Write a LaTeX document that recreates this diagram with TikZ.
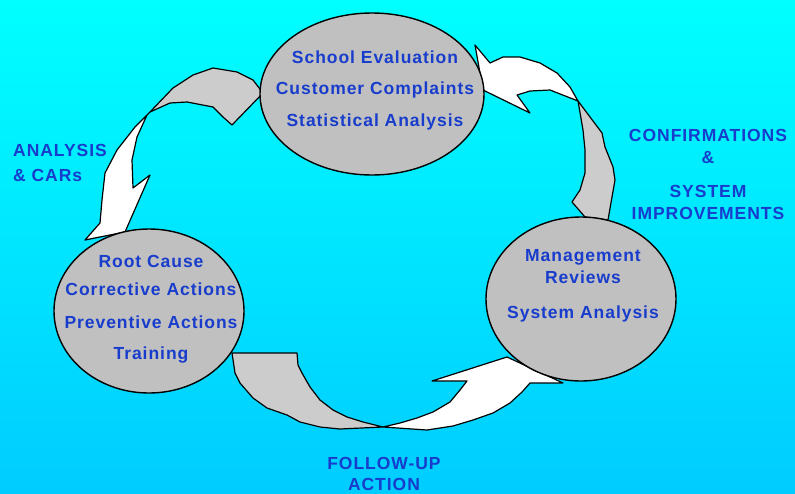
\documentclass[tikz,border=0pt]{standalone}
\usepackage{fontspec}
\setmainfont{Liberation Sans}[LetterSpace=5.5]
\usetikzlibrary{shapes,shapes.geometric}
\definecolor{skytop}{RGB}{0,255,255}
\definecolor{skybottom}{RGB}{0,204,255}
\definecolor{ovalgray}{RGB}{192,192,192}
\definecolor{tailgray}{RGB}{204,204,204}
\definecolor{textblue}{RGB}{24,60,204}

\begin{document}
\begin{tikzpicture}[x=1pt,y=-1pt]
				\tikzstyle{oval}=[ellipse, draw, line width=1.4pt, fill=ovalgray, inner sep=0pt]
				\tikzstyle{tailpart}=[draw, line width=1.2pt, fill=tailgray, line join=round]
				\tikzstyle{headpart}=[draw, line width=1.2pt, fill=white, line join=round]
				\tikzstyle{words}=[text=textblue, inner sep=0pt, align=center]
				\useasboundingbox (0,0) rectangle (795,493);
				\shade[top color=skytop, bottom color=skybottom] (0,0) rectangle (795,493);

				\draw[tailpart] (263,93) -- (253,80) -- (237,72) -- (213,68) -- (193,75) -- (173,88) -- (150,112) -- (170,103) -- (187,102) -- (213,107) -- (223,117) -- (232,125) -- cycle;
				\draw[headpart] (150,112) -- (135,127) -- (117,150) -- (105,173) -- (102,200) -- (100,223) -- (85,240) -- (125,232) -- (150,175) -- (133,188) -- (132,160) -- (137,137) -- (147,115) -- cycle;

				\draw[headpart] (475,45) -- (490,63) -- (503,57) -- (520,57) -- (540,63) -- (557,73) -- (570,87) -- (578,101) -- (550,90) -- (530,91) -- (517,95) -- (530,113) -- (483,90) -- cycle;
				\draw[tailpart] (578,101) -- (590,117) -- (602,133) -- (605,147) -- (613,167) -- (615,180) -- (612,197) -- (608,220) -- (585,217) -- (572,202) -- (580,190) -- (585,173) -- (585,150) -- (583,130) -- cycle;

				\draw[tailpart] (232,353) -- (297,353) -- (298,365) -- (302,373) -- (310,387) -- (320,400) -- (333,410) -- (347,417) -- (363,422) -- (383,427) -- (340,429) -- (320,427) -- (300,422) -- (287,415) -- (267,408) -- (253,398) -- (240,383) -- (235,373) -- cycle;
				\draw[headpart] (383,427) -- (427,430) -- (453,426) -- (473,420) -- (493,413) -- (510,403) -- (522,392) -- (530,383) -- (563,383) -- (507,357) -- (432,381) -- (467,381) -- (460,390) -- (450,402) -- (433,412) -- (417,418) -- (400,423) -- cycle;

				\node[oval, minimum width=224pt, minimum height=162pt] (eval) at (372,94) {};
				\node[oval, minimum width=190pt, minimum height=164pt] (causes) at (149,311) {};
				\node[oval, minimum width=190pt, minimum height=164pt] (review) at (581,299) {};

				\node[words, font=\bfseries\fontsize{17.5}{31.5}\selectfont] (evalText) at (375,90) {School Evaluation\\Customer Complaints\\Statistical Analysis};
				\node[words, font=\bfseries\fontsize{17.5}{28}\selectfont] (causesText) at (151,309) {Root Cause\\Corrective Actions\\[5.5pt]Preventive Actions\\[2.5pt]Training};
				\node[words, font=\bfseries\fontsize{17.5}{22}\selectfont] (reviewText) at (583,286) {Management\\Reviews\\[13pt]System Analysis};

				\node[words, align=left, anchor=west, font=\bfseries\fontsize{17.5}{25}\selectfont] (analysisLbl) at (13,163) {ANALYSIS\\\& CARs};
				\node[words, font=\bfseries\fontsize{17.5}{22}\selectfont] (confirmLbl) at (708,174) {CONFIRMATIONS\\\&\\[12pt]SYSTEM\\IMPROVEMENTS};
				\node[words, font=\bfseries\fontsize{17.5}{21}\selectfont] (followLbl) at (384,473.5) {FOLLOW-UP\\ACTION};
\end{tikzpicture}
\end{document}
